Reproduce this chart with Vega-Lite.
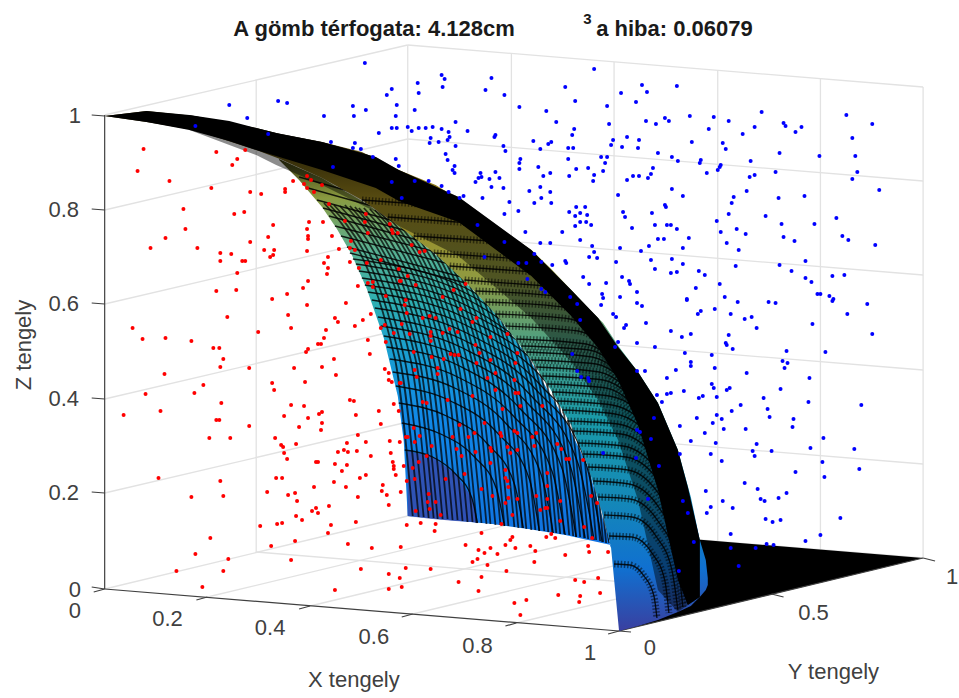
{"$schema":"https://vega.github.io/schema/vega-lite/v6.json","width":959,"height":698,"padding":0,"autosize":{"type":"fit","contains":"padding"},"background":"white","view":{"stroke":null},
"datasets":{
"grid":[{"x":105,"y":115,"x2":409,"y2":45},{"x":409,"y":45,"x2":926,"y2":87},{"x":926,"y":87,"x2":926,"y2":558},{"x":409,"y":45,"x2":409,"y2":516},{"x":257,"y":80,"x2":257,"y2":552},{"x":105,"y":210,"x2":409,"y2":139},{"x":105,"y":304,"x2":409,"y2":233},{"x":105,"y":399,"x2":409,"y2":328},{"x":105,"y":493,"x2":409,"y2":422},{"x":105,"y":589,"x2":409,"y2":516},{"x":409,"y":139,"x2":926,"y2":181},{"x":409,"y":233,"x2":926,"y2":275},{"x":409,"y":328,"x2":926,"y2":370},{"x":409,"y":422,"x2":926,"y2":464},{"x":409,"y":516,"x2":926,"y2":558},{"x":513,"y":53,"x2":513,"y2":524},{"x":616,"y":62,"x2":616,"y2":533},{"x":720,"y":70,"x2":720,"y2":541},{"x":823,"y":79,"x2":823,"y2":550},{"x":208,"y":597,"x2":513,"y2":524},{"x":311,"y":606,"x2":616,"y2":533},{"x":414,"y":614,"x2":720,"y2":541},{"x":518,"y":623,"x2":823,"y2":550},{"x":257,"y":552,"x2":774,"y2":594}],
"axes":[{"x":105,"y":115,"x2":105,"y2":589},{"x":105,"y":589,"x2":621,"y2":631},{"x":621,"y":631,"x2":926,"y2":558},{"x":105,"y":116,"x2":92,"y2":115},{"x":105,"y":210,"x2":92,"y2":209},{"x":105,"y":304,"x2":92,"y2":303},{"x":105,"y":399,"x2":92,"y2":398},{"x":105,"y":493,"x2":92,"y2":492},{"x":105,"y":589,"x2":92,"y2":587},{"x":105,"y":589,"x2":94,"y2":592},{"x":208,"y":597,"x2":197,"y2":600},{"x":311,"y":606,"x2":300,"y2":609},{"x":414,"y":614,"x2":403,"y2":617},{"x":518,"y":623,"x2":507,"y2":626},{"x":621,"y":631,"x2":610,"y2":634},{"x":926,"y":558,"x2":938,"y2":561},{"x":774,"y":594,"x2":786,"y2":597},{"x":621,"y":631,"x2":633,"y2":632}],
"floor":[{"x":621,"y":533,"y2":631},{"x":926,"y":558,"y2":558}],
"inner":[{"x":280,"y":159,"y2":160},{"x":300,"y":168,"y2":180},{"x":323,"y":178,"y2":207},{"x":338,"y":187,"y2":229},{"x":353,"y":195,"y2":255},{"x":368,"y":204,"y2":289},{"x":385,"y":216,"y2":338},{"x":399,"y":225,"y2":396},{"x":405,"y":229,"y2":441},{"x":409,"y":232,"y2":516},{"x":450,"y":265,"y2":520},{"x":494,"y":310,"y2":524},{"x":530,"y":357,"y2":529},{"x":567,"y":420,"y2":535},{"x":590,"y":467,"y2":540},{"x":613,"y":548,"y2":545}],
"patch":[{"x":409,"y":451,"y2":516},{"x":434,"y":457,"y2":519},{"x":457,"y":474,"y2":521},{"x":473,"y":497,"y2":522},{"x":479,"y":523,"y2":523}],
"outer":[{"x":105,"y":116,"y2":116},{"x":147,"y":111,"y2":122},{"x":195,"y":116,"y2":130},{"x":257,"y":128,"y2":150},{"x":281,"y":134,"y2":159},{"x":323,"y":142,"y2":178},{"x":363,"y":152,"y2":200},{"x":400,"y":170,"y2":226},{"x":437,"y":185,"y2":254},{"x":470,"y":205,"y2":285},{"x":500,"y":228,"y2":317},{"x":533,"y":250,"y2":360},{"x":552,"y":268,"y2":389},{"x":573,"y":290,"y2":425},{"x":590,"y":308,"y2":467},{"x":605,"y":323,"y2":516},{"x":613,"y":335,"y2":548},{"x":621,"y":347,"y2":631},{"x":640,"y":372,"y2":626},{"x":660,"y":403,"y2":620},{"x":680,"y":450,"y2":612},{"x":693,"y":497,"y2":606},{"x":702,"y":540,"y2":597},{"x":708,"y":560,"y2":590},{"x":710,"y":578,"y2":585}],
"black":[{"x":105,"y":116,"y2":116},{"x":147,"y":111,"y2":122},{"x":190,"y":115,"y2":130},{"x":230,"y":121,"y2":141},{"x":257,"y":128,"y2":150},{"x":277,"y":133,"y2":156},{"x":323,"y":142,"y2":170},{"x":377,"y":157,"y2":188},{"x":400,"y":170,"y2":201},{"x":460,"y":197,"y2":222},{"x":533,"y":250,"y2":276},{"x":573,"y":290,"y2":316},{"x":600,"y":318,"y2":348},{"x":620,"y":347,"y2":380},{"x":640,"y":372,"y2":425},{"x":660,"y":403,"y2":490},{"x":680,"y":450,"y2":580},{"x":690,"y":487,"y2":605},{"x":702,"y":540,"y2":597}],
"fade":[{"x":190,"y":115,"y2":130},{"x":257,"y":128,"y2":155},{"x":277,"y":133,"y2":165},{"x":323,"y":142,"y2":185},{"x":377,"y":157,"y2":212},{"x":400,"y":170,"y2":226},{"x":460,"y":197,"y2":256},{"x":533,"y":250,"y2":318},{"x":573,"y":290,"y2":362},{"x":600,"y":318,"y2":400},{"x":620,"y":347,"y2":440},{"x":640,"y":372,"y2":500},{"x":660,"y":403,"y2":590},{"x":680,"y":450,"y2":612},{"x":702,"y":540,"y2":597}],
"innerArcs":[
{"c":0.99,"x":406,"y":450},{"c":0.99,"x":434,"y":457},{"c":0.99,"x":457,"y":474},{"c":0.99,"x":473,"y":497},{"c":0.99,"x":479,"y":523},
{"c":0.98,"x":403,"y":423},{"c":0.98,"x":442,"y":434},{"c":0.98,"x":476,"y":457},{"c":0.98,"x":498,"y":489},{"c":0.98,"x":506,"y":526},
{"c":0.97,"x":400,"y":403},{"c":0.97,"x":448,"y":416},{"c":0.97,"x":489,"y":444},{"c":0.97,"x":516,"y":484},{"c":0.97,"x":525,"y":528},
{"c":0.96,"x":397,"y":386},{"c":0.96,"x":452,"y":401},{"c":0.96,"x":499,"y":433},{"c":0.96,"x":531,"y":479},{"c":0.96,"x":541,"y":531},
{"c":0.95,"x":394,"y":372},{"c":0.95,"x":456,"y":388},{"c":0.95,"x":508,"y":424},{"c":0.95,"x":543,"y":475},{"c":0.95,"x":555,"y":533},
{"c":0.94,"x":391,"y":359},{"c":0.94,"x":459,"y":377},{"c":0.94,"x":515,"y":416},{"c":0.94,"x":554,"y":472},{"c":0.94,"x":567,"y":535},
{"c":0.93,"x":388,"y":347},{"c":0.93,"x":461,"y":366},{"c":0.93,"x":522,"y":409},{"c":0.93,"x":564,"y":469},{"c":0.93,"x":578,"y":537},
{"c":0.92,"x":385,"y":336},{"c":0.92,"x":463,"y":357},{"c":0.92,"x":528,"y":402},{"c":0.92,"x":572,"y":466},{"c":0.92,"x":587,"y":538},
{"c":0.91,"x":382,"y":326},{"c":0.91,"x":464,"y":348},{"c":0.91,"x":533,"y":396},{"c":0.91,"x":580,"y":464},{"c":0.91,"x":596,"y":540},
{"c":0.9,"x":379,"y":317},{"c":0.9,"x":465,"y":340},{"c":0.9,"x":538,"y":390},{"c":0.9,"x":587,"y":461},{"c":0.9,"x":604,"y":542},
{"c":0.89,"x":376,"y":308},{"c":0.89,"x":466,"y":332},{"c":0.89,"x":542,"y":385},{"c":0.89,"x":594,"y":459},{"c":0.89,"x":611,"y":543},
{"c":0.88,"x":373,"y":300},{"c":0.88,"x":467,"y":325},{"c":0.88,"x":546,"y":380},{"c":0.88,"x":600,"y":457},{"c":0.88,"x":618,"y":545},
{"c":0.87,"x":369,"y":292},{"c":0.87,"x":467,"y":318},{"c":0.87,"x":549,"y":375},{"c":0.87,"x":604,"y":455},
{"c":0.86,"x":366,"y":285},{"c":0.86,"x":467,"y":311},{"c":0.86,"x":552,"y":371},{"c":0.86,"x":609,"y":454},
{"c":0.85,"x":363,"y":278},{"c":0.85,"x":467,"y":305},{"c":0.85,"x":555,"y":366},
{"c":0.84,"x":360,"y":271},{"c":0.84,"x":468,"y":299},{"c":0.84,"x":558,"y":362},
{"c":0.83,"x":357,"y":264},{"c":0.83,"x":467,"y":293},{"c":0.83,"x":561,"y":358},
{"c":0.82,"x":354,"y":259},{"c":0.82,"x":467,"y":288},{"c":0.82,"x":563,"y":355},
{"c":0.81,"x":351,"y":253},{"c":0.81,"x":467,"y":283},
{"c":0.8,"x":348,"y":247},{"c":0.8,"x":467,"y":278},
{"c":0.78,"x":342,"y":236},{"c":0.78,"x":466,"y":268},
{"c":0.76,"x":336,"y":226},{"c":0.76,"x":465,"y":259},
{"c":0.74,"x":330,"y":216},{"c":0.74,"x":463,"y":252},
{"c":0.72,"x":324,"y":208},{"c":0.72,"x":460,"y":245},
{"c":0.7,"x":318,"y":200},{"c":0.7,"x":458,"y":238},
{"c":0.67,"x":309,"y":188},{"c":0.67,"x":452,"y":228},
{"c":0.64,"x":300,"y":177},{"c":0.64,"x":445,"y":218}],
"stripes":[
{"c":0.01,"x":325,"y":203},{"c":0.01,"x":396,"y":358},{"c":0.01,"x":414,"y":516},
{"c":0.02,"x":330,"y":204},{"c":0.02,"x":401,"y":359},{"c":0.02,"x":420,"y":517},
{"c":0.03,"x":335,"y":205},{"c":0.03,"x":406,"y":360},{"c":0.03,"x":425,"y":517},
{"c":0.04,"x":341,"y":206},{"c":0.04,"x":412,"y":360},{"c":0.04,"x":430,"y":518},
{"c":0.05,"x":346,"y":205},{"c":0.05,"x":417,"y":360},{"c":0.05,"x":435,"y":518},
{"c":0.06,"x":351,"y":206},{"c":0.06,"x":421,"y":361},{"c":0.06,"x":439,"y":519},
{"c":0.07,"x":356,"y":207},{"c":0.07,"x":426,"y":361},{"c":0.07,"x":444,"y":519},
{"c":0.08,"x":360,"y":208},{"c":0.08,"x":431,"y":362},{"c":0.08,"x":449,"y":519},
{"c":0.09,"x":365,"y":208},{"c":0.09,"x":436,"y":363},{"c":0.09,"x":454,"y":520},
{"c":0.1,"x":371,"y":209},{"c":0.1,"x":441,"y":363},{"c":0.1,"x":459,"y":520},
{"c":0.11,"x":376,"y":210},{"c":0.11,"x":446,"y":364},{"c":0.11,"x":464,"y":521},
{"c":0.12,"x":380,"y":211},{"c":0.12,"x":451,"y":365},{"c":0.12,"x":469,"y":522},
{"c":0.13,"x":385,"y":212},{"c":0.13,"x":456,"y":365},{"c":0.13,"x":474,"y":522},
{"c":0.14,"x":390,"y":213},{"c":0.14,"x":460,"y":366},{"c":0.14,"x":478,"y":523},
{"c":0.15,"x":395,"y":214},{"c":0.15,"x":465,"y":367},{"c":0.15,"x":483,"y":523},
{"c":0.16,"x":400,"y":215},{"c":0.16,"x":470,"y":368},{"c":0.16,"x":488,"y":524},
{"c":0.17,"x":405,"y":216},{"c":0.17,"x":475,"y":368},{"c":0.17,"x":492,"y":524},
{"c":0.18,"x":410,"y":217},{"c":0.18,"x":479,"y":369},{"c":0.18,"x":497,"y":525},
{"c":0.19,"x":414,"y":218},{"c":0.19,"x":484,"y":370},{"c":0.19,"x":502,"y":525},
{"c":0.2,"x":419,"y":219},{"c":0.2,"x":488,"y":371},{"c":0.2,"x":506,"y":526},
{"c":0.21,"x":423,"y":220},{"c":0.21,"x":493,"y":372},{"c":0.21,"x":510,"y":526},
{"c":0.22,"x":429,"y":221},{"c":0.22,"x":498,"y":373},{"c":0.22,"x":516,"y":527},
{"c":0.23,"x":433,"y":223},{"c":0.23,"x":502,"y":374},{"c":0.23,"x":520,"y":528},
{"c":0.24,"x":438,"y":224},{"c":0.24,"x":507,"y":375},{"c":0.24,"x":524,"y":528},
{"c":0.25,"x":442,"y":226},{"c":0.25,"x":511,"y":376},{"c":0.25,"x":528,"y":529},
{"c":0.26,"x":447,"y":227},{"c":0.26,"x":515,"y":377},{"c":0.26,"x":533,"y":530},
{"c":0.27,"x":451,"y":229},{"c":0.27,"x":519,"y":378},{"c":0.27,"x":537,"y":530},
{"c":0.28,"x":455,"y":230},{"c":0.28,"x":524,"y":379},{"c":0.28,"x":541,"y":531},
{"c":0.29,"x":461,"y":232},{"c":0.29,"x":529,"y":380},{"c":0.29,"x":546,"y":531},
{"c":0.3,"x":465,"y":233},{"c":0.3,"x":533,"y":381},{"c":0.3,"x":550,"y":532},
{"c":0.31,"x":469,"y":235},{"c":0.31,"x":537,"y":382},{"c":0.31,"x":554,"y":533},
{"c":0.32,"x":474,"y":237},{"c":0.32,"x":541,"y":384},{"c":0.32,"x":558,"y":533},
{"c":0.33,"x":478,"y":239},{"c":0.33,"x":545,"y":385},{"c":0.33,"x":562,"y":534},
{"c":0.34,"x":482,"y":240},{"c":0.34,"x":549,"y":386},{"c":0.34,"x":566,"y":534},
{"c":0.35,"x":487,"y":242},{"c":0.35,"x":554,"y":387},{"c":0.35,"x":571,"y":535},
{"c":0.36,"x":492,"y":244},{"c":0.36,"x":558,"y":388},{"c":0.36,"x":575,"y":536},
{"c":0.37,"x":496,"y":246},{"c":0.37,"x":562,"y":390},{"c":0.37,"x":578,"y":537},
{"c":0.38,"x":500,"y":248},{"c":0.38,"x":566,"y":391},{"c":0.38,"x":582,"y":537},
{"c":0.39,"x":504,"y":250},{"c":0.39,"x":569,"y":393},{"c":0.39,"x":586,"y":538},
{"c":0.4,"x":508,"y":252},{"c":0.4,"x":573,"y":394},{"c":0.4,"x":590,"y":539},
{"c":0.41,"x":513,"y":254},{"c":0.41,"x":578,"y":395},{"c":0.41,"x":594,"y":539},
{"c":0.42,"x":517,"y":256},{"c":0.42,"x":582,"y":397},{"c":0.42,"x":598,"y":540},
{"c":0.43,"x":521,"y":258},{"c":0.43,"x":585,"y":398},{"c":0.43,"x":602,"y":541},
{"c":0.44,"x":525,"y":261},{"c":0.44,"x":589,"y":400},{"c":0.44,"x":605,"y":542},
{"c":0.45,"x":529,"y":263},{"c":0.45,"x":592,"y":402},{"c":0.45,"x":608,"y":543}],
"outerArcs":[
{"c":0.99,"x":616,"y":564},{"c":0.99,"x":632,"y":565},{"c":0.99,"x":646,"y":576},{"c":0.99,"x":656,"y":596},{"c":0.99,"x":659,"y":618},
{"c":0.98,"x":611,"y":536},{"c":0.98,"x":634,"y":537},{"c":0.98,"x":654,"y":553},{"c":0.98,"x":667,"y":581},{"c":0.98,"x":671,"y":613},
{"c":0.97,"x":606,"y":515},{"c":0.97,"x":634,"y":517},{"c":0.97,"x":658,"y":536},{"c":0.97,"x":674,"y":570},{"c":0.97,"x":680,"y":610},
{"c":0.96,"x":600,"y":497},{"c":0.96,"x":632,"y":499},{"c":0.96,"x":660,"y":521},{"c":0.96,"x":679,"y":560},{"c":0.96,"x":685,"y":607},
{"c":0.95,"x":595,"y":481},{"c":0.95,"x":631,"y":484},{"c":0.95,"x":662,"y":509},{"c":0.95,"x":683,"y":552},{"c":0.95,"x":690,"y":604},
{"c":0.94,"x":590,"y":467},{"c":0.94,"x":630,"y":470},{"c":0.94,"x":663,"y":497},{"c":0.94,"x":686,"y":544},{"c":0.94,"x":694,"y":602},
{"c":0.93,"x":585,"y":454},{"c":0.93,"x":628,"y":457},{"c":0.93,"x":664,"y":486},{"c":0.93,"x":688,"y":537},{"c":0.93,"x":697,"y":600},
{"c":0.92,"x":580,"y":443},{"c":0.92,"x":625,"y":446},{"c":0.92,"x":664,"y":477},{"c":0.92,"x":690,"y":531},
{"c":0.91,"x":575,"y":431},{"c":0.91,"x":623,"y":434},{"c":0.91,"x":664,"y":467},{"c":0.91,"x":692,"y":524},
{"c":0.9,"x":569,"y":421},{"c":0.9,"x":620,"y":424},{"c":0.9,"x":663,"y":459},{"c":0.9,"x":690,"y":519},
{"c":0.89,"x":564,"y":410},{"c":0.89,"x":617,"y":414},{"c":0.89,"x":662,"y":450},{"c":0.89,"x":688,"y":513},
{"c":0.88,"x":559,"y":401},{"c":0.88,"x":614,"y":405},{"c":0.88,"x":661,"y":443},{"c":0.88,"x":686,"y":508},
{"c":0.87,"x":554,"y":392},{"c":0.87,"x":611,"y":396},{"c":0.87,"x":660,"y":435},{"c":0.87,"x":684,"y":500},
{"c":0.86,"x":549,"y":384},{"c":0.86,"x":608,"y":388},{"c":0.86,"x":657,"y":428},
{"c":0.85,"x":544,"y":376},{"c":0.85,"x":605,"y":380},{"c":0.85,"x":655,"y":421},
{"c":0.84,"x":538,"y":367},{"c":0.84,"x":601,"y":372},{"c":0.84,"x":653,"y":414},
{"c":0.83,"x":533,"y":360},{"c":0.83,"x":598,"y":364},{"c":0.83,"x":650,"y":409},
{"c":0.82,"x":528,"y":352},{"c":0.82,"x":594,"y":357},{"c":0.82,"x":648,"y":402},
{"c":0.81,"x":523,"y":346},{"c":0.81,"x":591,"y":350},{"c":0.81,"x":645,"y":397},
{"c":0.8,"x":518,"y":339},{"c":0.8,"x":588,"y":344},{"c":0.8,"x":642,"y":391},
{"c":0.78,"x":507,"y":326},{"c":0.78,"x":580,"y":331},{"c":0.78,"x":636,"y":380},
{"c":0.76,"x":497,"y":314},{"c":0.76,"x":572,"y":319},{"c":0.76,"x":630,"y":370},
{"c":0.74,"x":487,"y":302},{"c":0.74,"x":565,"y":307},{"c":0.74,"x":622,"y":360},
{"c":0.72,"x":477,"y":291},{"c":0.72,"x":558,"y":296},{"c":0.72,"x":612,"y":351},
{"c":0.7,"x":466,"y":280},{"c":0.7,"x":549,"y":286},
{"c":0.67,"x":451,"y":266},{"c":0.67,"x":537,"y":272},
{"c":0.64,"x":435,"y":253},{"c":0.64,"x":524,"y":259},
{"c":0.6,"x":415,"y":236},{"c":0.6,"x":508,"y":242},
{"c":0.55,"x":389,"y":217},{"c":0.55,"x":486,"y":224},
{"c":0.5,"x":363,"y":200},{"c":0.5,"x":463,"y":207}],
"blue":[{"x":443,"y":75},{"x":446,"y":79},{"x":419,"y":83},{"x":444,"y":87},{"x":493,"y":78},{"x":487,"y":90},{"x":420,"y":93},{"x":506,"y":95},{"x":596,"y":69},{"x":567,"y":87},{"x":623,"y":93},{"x":644,"y":85},{"x":649,"y":92},{"x":638,"y":102},{"x":577,"y":101},{"x":609,"y":106},{"x":521,"y":107},{"x":548,"y":111},{"x":416,"y":110},{"x":457,"y":122},{"x":558,"y":122},{"x":611,"y":124},{"x":648,"y":121},{"x":658,"y":124},{"x":667,"y":118},{"x":671,"y":121},{"x":679,"y":86},{"x":409,"y":127},{"x":413,"y":131},{"x":420,"y":128},{"x":427,"y":128},{"x":434,"y":127},{"x":443,"y":129},{"x":450,"y":132},{"x":469,"y":131},{"x":576,"y":129},{"x":574,"y":135},{"x":497,"y":135},{"x":496,"y":137},{"x":451,"y":137},{"x":449,"y":140},{"x":432,"y":138},{"x":431,"y":143},{"x":440,"y":142},{"x":457,"y":146},{"x":535,"y":141},{"x":553,"y":142},{"x":550,"y":144},{"x":615,"y":140},{"x":629,"y":137},{"x":641,"y":140},{"x":613,"y":145},{"x":624,"y":147},{"x":640,"y":148},{"x":505,"y":146},{"x":507,"y":151},{"x":542,"y":149},{"x":570,"y":148},{"x":575,"y":148},{"x":660,"y":153},{"x":674,"y":157},{"x":603,"y":157},{"x":609,"y":157},{"x":447,"y":154},{"x":449,"y":160},{"x":570,"y":159},{"x":607,"y":163},{"x":522,"y":159},{"x":521,"y":163},{"x":521,"y":169},{"x":540,"y":167},{"x":578,"y":169},{"x":590,"y":168},{"x":655,"y":168},{"x":456,"y":166},{"x":454,"y":170},{"x":456,"y":173},{"x":552,"y":173},{"x":545,"y":176},{"x":571,"y":176},{"x":605,"y":171},{"x":596,"y":175},{"x":595,"y":181},{"x":497,"y":172},{"x":482,"y":173},{"x":483,"y":177},{"x":480,"y":178},{"x":477,"y":182},{"x":491,"y":179},{"x":501,"y":178},{"x":635,"y":176},{"x":641,"y":176},{"x":653,"y":174},{"x":650,"y":178},{"x":629,"y":180},{"x":416,"y":181},{"x":430,"y":181},{"x":443,"y":186},{"x":450,"y":192},{"x":493,"y":187},{"x":505,"y":188},{"x":531,"y":191},{"x":542,"y":187},{"x":552,"y":192},{"x":543,"y":198},{"x":484,"y":198},{"x":461,"y":198},{"x":465,"y":196},{"x":674,"y":189},{"x":620,"y":195},{"x":511,"y":202},{"x":536,"y":203},{"x":553,"y":203},{"x":403,"y":198},{"x":667,"y":205},{"x":668,"y":207},{"x":578,"y":207},{"x":587,"y":207},{"x":571,"y":212},{"x":582,"y":213},{"x":577,"y":216},{"x":589,"y":215},{"x":520,"y":211},{"x":506,"y":214},{"x":625,"y":212},{"x":627,"y":217},{"x":654,"y":213},{"x":582,"y":222},{"x":588,"y":222},{"x":593,"y":225},{"x":577,"y":226},{"x":657,"y":225},{"x":669,"y":225},{"x":673,"y":225},{"x":634,"y":228},{"x":679,"y":229},{"x":479,"y":225},{"x":527,"y":232},{"x":564,"y":232},{"x":582,"y":240},{"x":506,"y":242},{"x":542,"y":243},{"x":552,"y":243},{"x":660,"y":239},{"x":666,"y":239},{"x":651,"y":246},{"x":643,"y":251},{"x":594,"y":246},{"x":622,"y":248},{"x":596,"y":252},{"x":591,"y":257},{"x":599,"y":258},{"x":618,"y":262},{"x":653,"y":260},{"x":674,"y":259},{"x":486,"y":257},{"x":536,"y":254},{"x":520,"y":263},{"x":528,"y":263},{"x":543,"y":262},{"x":554,"y":265},{"x":567,"y":261},{"x":568,"y":263},{"x":657,"y":269},{"x":673,"y":273},{"x":679,"y":272},{"x":529,"y":279},{"x":585,"y":277},{"x":624,"y":277},{"x":631,"y":281},{"x":632,"y":284},{"x":591,"y":284},{"x":608,"y":283},{"x":543,"y":289},{"x":547,"y":292},{"x":639,"y":292},{"x":572,"y":297},{"x":604,"y":294},{"x":605,"y":298},{"x":622,"y":297},{"x":692,"y":116},{"x":716,"y":117},{"x":731,"y":121},{"x":711,"y":129},{"x":764,"y":112},{"x":757,"y":127},{"x":745,"y":134},{"x":786,"y":123},{"x":788,"y":126},{"x":804,"y":127},{"x":798,"y":132},{"x":849,"y":115},{"x":875,"y":124},{"x":855,"y":138},{"x":694,"y":142},{"x":725,"y":143},{"x":728,"y":149},{"x":782,"y":153},{"x":822,"y":156},{"x":858,"y":156},{"x":753,"y":161},{"x":680,"y":161},{"x":703,"y":160},{"x":702,"y":163},{"x":723,"y":165},{"x":722,"y":167},{"x":720,"y":170},{"x":709,"y":173},{"x":778,"y":172},{"x":757,"y":175},{"x":752,"y":177},{"x":860,"y":172},{"x":855,"y":179},{"x":749,"y":191},{"x":882,"y":190},{"x":685,"y":196},{"x":736,"y":197},{"x":781,"y":198},{"x":807,"y":196},{"x":734,"y":203},{"x":731,"y":214},{"x":768,"y":216},{"x":839,"y":218},{"x":719,"y":221},{"x":784,"y":224},{"x":817,"y":224},{"x":739,"y":229},{"x":723,"y":232},{"x":748,"y":234},{"x":845,"y":236},{"x":786,"y":237},{"x":851,"y":240},{"x":691,"y":238},{"x":797,"y":241},{"x":729,"y":243},{"x":878,"y":245},{"x":685,"y":248},{"x":741,"y":250},{"x":685,"y":264},{"x":738,"y":266},{"x":782,"y":265},{"x":808,"y":261},{"x":701,"y":271},{"x":707,"y":275},{"x":794,"y":271},{"x":808,"y":278},{"x":814,"y":282},{"x":835,"y":276},{"x":847,"y":275},{"x":698,"y":288},{"x":722,"y":284},{"x":820,"y":294},{"x":823,"y":294},{"x":832,"y":296},{"x":727,"y":297},{"x":689,"y":299},{"x":836,"y":299},{"x":603,"y":305},{"x":639,"y":303},{"x":644,"y":306},{"x":689,"y":300},{"x":740,"y":302},{"x":771,"y":302},{"x":778,"y":303},{"x":835,"y":301},{"x":870,"y":304},{"x":717,"y":309},{"x":703,"y":311},{"x":700,"y":314},{"x":733,"y":314},{"x":850,"y":314},{"x":615,"y":314},{"x":618,"y":317},{"x":747,"y":319},{"x":754,"y":317},{"x":648,"y":323},{"x":628,"y":325},{"x":626,"y":328},{"x":815,"y":324},{"x":759,"y":328},{"x":673,"y":331},{"x":693,"y":334},{"x":684,"y":337},{"x":731,"y":335},{"x":875,"y":334},{"x":620,"y":342},{"x":617,"y":347},{"x":639,"y":343},{"x":657,"y":347},{"x":728,"y":343},{"x":729,"y":345},{"x":735,"y":349},{"x":789,"y":351},{"x":828,"y":352},{"x":687,"y":353},{"x":714,"y":355},{"x":785,"y":361},{"x":790,"y":363},{"x":787,"y":368},{"x":693,"y":362},{"x":693,"y":366},{"x":717,"y":368},{"x":678,"y":370},{"x":647,"y":371},{"x":639,"y":371},{"x":749,"y":373},{"x":812,"y":378},{"x":669,"y":378},{"x":714,"y":384},{"x":716,"y":388},{"x":729,"y":390},{"x":732,"y":388},{"x":783,"y":389},{"x":686,"y":391},{"x":659,"y":395},{"x":669,"y":394},{"x":673,"y":393},{"x":719,"y":397},{"x":705,"y":396},{"x":701,"y":398},{"x":766,"y":398},{"x":664,"y":402},{"x":811,"y":402},{"x":864,"y":405},{"x":743,"y":405},{"x":770,"y":409},{"x":734,"y":411},{"x":772,"y":417},{"x":719,"y":415},{"x":724,"y":419},{"x":699,"y":418},{"x":796,"y":419},{"x":656,"y":418},{"x":715,"y":423},{"x":795,"y":427},{"x":682,"y":426},{"x":726,"y":429},{"x":748,"y":429},{"x":639,"y":430},{"x":642,"y":432},{"x":707,"y":433},{"x":653,"y":439},{"x":826,"y":438},{"x":693,"y":441},{"x":718,"y":443},{"x":759,"y":444},{"x":813,"y":448},{"x":857,"y":449},{"x":755,"y":451},{"x":774,"y":451},{"x":605,"y":453},{"x":682,"y":454},{"x":713,"y":454},{"x":757,"y":456},{"x":638,"y":458},{"x":825,"y":462},{"x":724,"y":461},{"x":661,"y":466},{"x":862,"y":469},{"x":798,"y":472},{"x":827,"y":477},{"x":747,"y":483},{"x":760,"y":489},{"x":708,"y":491},{"x":789,"y":493},{"x":781,"y":498},{"x":650,"y":499},{"x":763,"y":499},{"x":767,"y":501},{"x":725,"y":501},{"x":685,"y":501},{"x":713,"y":507},{"x":735,"y":508},{"x":690,"y":513},{"x":709,"y":513},{"x":768,"y":519},{"x":783,"y":520},{"x":775,"y":522},{"x":843,"y":518},{"x":733,"y":534},{"x":823,"y":535},{"x":808,"y":541},{"x":696,"y":542},{"x":769,"y":544},{"x":776,"y":545},{"x":733,"y":548},{"x":758,"y":548},{"x":741,"y":566},{"x":681,"y":571},{"x":366,"y":63},{"x":230,"y":105},{"x":279,"y":101},{"x":288,"y":103},{"x":393,"y":89},{"x":388,"y":95},{"x":354,"y":106},{"x":367,"y":110},{"x":355,"y":116},{"x":398,"y":105},{"x":397,"y":116},{"x":325,"y":116},{"x":248,"y":118},{"x":269,"y":134},{"x":380,"y":133},{"x":393,"y":128},{"x":398,"y":128},{"x":332,"y":142},{"x":356,"y":143},{"x":354,"y":148},{"x":362,"y":149},{"x":374,"y":157},{"x":397,"y":159},{"x":400,"y":166},{"x":334,"y":167},{"x":393,"y":182},{"x":196,"y":126},{"x":579,"y":304},{"x":582,"y":320},{"x":574,"y":354},{"x":579,"y":371},{"x":583,"y":377},{"x":590,"y":378},{"x":591,"y":381}],
"red":[{"x":144,"y":149},{"x":217,"y":152},{"x":246,"y":150},{"x":238,"y":159},{"x":233,"y":165},{"x":138,"y":171},{"x":170,"y":181},{"x":212,"y":188},{"x":251,"y":192},{"x":262,"y":194},{"x":286,"y":189},{"x":286,"y":192},{"x":294,"y":181},{"x":308,"y":176},{"x":312,"y":180},{"x":305,"y":184},{"x":308,"y":188},{"x":323,"y":185},{"x":315,"y":192},{"x":330,"y":204},{"x":184,"y":209},{"x":245,"y":212},{"x":235,"y":214},{"x":367,"y":214},{"x":366,"y":222},{"x":346,"y":221},{"x":324,"y":222},{"x":310,"y":222},{"x":274,"y":225},{"x":308,"y":229},{"x":186,"y":229},{"x":166,"y":238},{"x":269,"y":237},{"x":309,"y":236},{"x":309,"y":239},{"x":333,"y":236},{"x":369,"y":233},{"x":352,"y":241},{"x":251,"y":242},{"x":151,"y":248},{"x":198,"y":248},{"x":308,"y":251},{"x":340,"y":249},{"x":351,"y":248},{"x":356,"y":250},{"x":265,"y":250},{"x":275,"y":250},{"x":221,"y":253},{"x":232,"y":254},{"x":274,"y":255},{"x":271,"y":257},{"x":329,"y":257},{"x":325,"y":263},{"x":382,"y":260},{"x":351,"y":262},{"x":368,"y":263},{"x":221,"y":261},{"x":243,"y":261},{"x":246,"y":261},{"x":329,"y":268},{"x":360,"y":268},{"x":238,"y":273},{"x":328,"y":274},{"x":309,"y":281},{"x":369,"y":283},{"x":374,"y":282},{"x":374,"y":287},{"x":359,"y":286},{"x":304,"y":288},{"x":217,"y":291},{"x":237,"y":290},{"x":288,"y":294},{"x":387,"y":296},{"x":273,"y":299},{"x":308,"y":305},{"x":347,"y":303},{"x":289,"y":315},{"x":228,"y":317},{"x":372,"y":314},{"x":336,"y":318},{"x":339,"y":322},{"x":364,"y":320},{"x":356,"y":326},{"x":386,"y":325},{"x":382,"y":328},{"x":133,"y":328},{"x":292,"y":328},{"x":327,"y":330},{"x":259,"y":332},{"x":143,"y":339},{"x":166,"y":338},{"x":192,"y":341},{"x":325,"y":338},{"x":322,"y":344},{"x":319,"y":344},{"x":369,"y":340},{"x":387,"y":342},{"x":214,"y":348},{"x":220,"y":348},{"x":309,"y":349},{"x":224,"y":359},{"x":221,"y":367},{"x":250,"y":368},{"x":307,"y":352},{"x":335,"y":359},{"x":371,"y":354},{"x":295,"y":368},{"x":323,"y":367},{"x":337,"y":375},{"x":165,"y":374},{"x":386,"y":369},{"x":390,"y":373},{"x":306,"y":382},{"x":273,"y":383},{"x":204,"y":385},{"x":195,"y":393},{"x":146,"y":394},{"x":275,"y":390},{"x":390,"y":380},{"x":393,"y":382},{"x":401,"y":383},{"x":222,"y":403},{"x":351,"y":400},{"x":355,"y":401},{"x":292,"y":405},{"x":305,"y":406},{"x":395,"y":404},{"x":161,"y":411},{"x":124,"y":415},{"x":380,"y":411},{"x":400,"y":411},{"x":323,"y":412},{"x":320,"y":414},{"x":357,"y":415},{"x":285,"y":416},{"x":309,"y":418},{"x":217,"y":420},{"x":220,"y":420},{"x":323,"y":423},{"x":382,"y":424},{"x":250,"y":426},{"x":300,"y":427},{"x":322,"y":430},{"x":210,"y":438},{"x":231,"y":438},{"x":276,"y":438},{"x":359,"y":435},{"x":407,"y":437},{"x":391,"y":441},{"x":367,"y":442},{"x":401,"y":442},{"x":348,"y":443},{"x":297,"y":444},{"x":282,"y":445},{"x":284,"y":447},{"x":345,"y":450},{"x":349,"y":452},{"x":339,"y":452},{"x":358,"y":451},{"x":285,"y":453},{"x":392,"y":453},{"x":372,"y":456},{"x":288,"y":459},{"x":317,"y":462},{"x":319,"y":462},{"x":336,"y":464},{"x":394,"y":462},{"x":348,"y":465},{"x":395,"y":466},{"x":395,"y":469},{"x":405,"y":466},{"x":343,"y":471},{"x":397,"y":475},{"x":367,"y":475},{"x":361,"y":478},{"x":159,"y":478},{"x":277,"y":478},{"x":283,"y":478},{"x":221,"y":481},{"x":335,"y":482},{"x":408,"y":481},{"x":347,"y":487},{"x":384,"y":485},{"x":315,"y":487},{"x":383,"y":491},{"x":268,"y":492},{"x":296,"y":493},{"x":289,"y":495},{"x":388,"y":495},{"x":402,"y":492},{"x":192,"y":497},{"x":224,"y":496},{"x":359,"y":497},{"x":298,"y":501},{"x":390,"y":505},{"x":317,"y":508},{"x":330,"y":506},{"x":313,"y":511},{"x":319,"y":513},{"x":297,"y":516},{"x":303,"y":520},{"x":357,"y":522},{"x":283,"y":523},{"x":278,"y":524},{"x":261,"y":526},{"x":332,"y":525},{"x":408,"y":525},{"x":329,"y":533},{"x":211,"y":538},{"x":296,"y":541},{"x":349,"y":544},{"x":272,"y":546},{"x":373,"y":548},{"x":402,"y":547},{"x":196,"y":554},{"x":229,"y":559},{"x":292,"y":560},{"x":362,"y":569},{"x":177,"y":571},{"x":224,"y":571},{"x":407,"y":568},{"x":390,"y":574},{"x":401,"y":578},{"x":203,"y":587},{"x":336,"y":590},{"x":390,"y":589},{"x":403,"y":587},{"x":402,"y":281},{"x":417,"y":285},{"x":455,"y":290},{"x":467,"y":284},{"x":444,"y":297},{"x":407,"y":300},{"x":406,"y":305},{"x":462,"y":309},{"x":408,"y":313},{"x":424,"y":318},{"x":431,"y":316},{"x":437,"y":318},{"x":478,"y":318},{"x":474,"y":322},{"x":403,"y":324},{"x":395,"y":333},{"x":411,"y":334},{"x":432,"y":332},{"x":432,"y":336},{"x":451,"y":329},{"x":444,"y":333},{"x":459,"y":332},{"x":432,"y":341},{"x":492,"y":337},{"x":509,"y":334},{"x":477,"y":345},{"x":415,"y":352},{"x":519,"y":353},{"x":452,"y":354},{"x":456,"y":355},{"x":460,"y":355},{"x":433,"y":357},{"x":445,"y":359},{"x":481,"y":353},{"x":492,"y":360},{"x":478,"y":363},{"x":517,"y":363},{"x":439,"y":368},{"x":416,"y":370},{"x":497,"y":373},{"x":439,"y":374},{"x":418,"y":377},{"x":489,"y":378},{"x":516,"y":380},{"x":402,"y":383},{"x":497,"y":390},{"x":517,"y":393},{"x":520,"y":393},{"x":474,"y":396},{"x":424,"y":402},{"x":428,"y":403},{"x":449,"y":400},{"x":522,"y":406},{"x":544,"y":406},{"x":504,"y":409},{"x":486,"y":423},{"x":461,"y":425},{"x":415,"y":428},{"x":516,"y":431},{"x":519,"y":433},{"x":476,"y":433},{"x":502,"y":433},{"x":503,"y":436},{"x":538,"y":433},{"x":534,"y":437},{"x":421,"y":436},{"x":409,"y":437},{"x":454,"y":437},{"x":470,"y":437},{"x":416,"y":442},{"x":536,"y":446},{"x":559,"y":444},{"x":563,"y":449},{"x":433,"y":446},{"x":492,"y":448},{"x":493,"y":451},{"x":509,"y":447},{"x":458,"y":449},{"x":519,"y":450},{"x":477,"y":452},{"x":512,"y":453},{"x":428,"y":456},{"x":463,"y":456},{"x":568,"y":459},{"x":571,"y":459},{"x":585,"y":460},{"x":420,"y":462},{"x":492,"y":463},{"x":414,"y":468},{"x":507,"y":470},{"x":549,"y":473},{"x":466,"y":474},{"x":507,"y":478},{"x":509,"y":481},{"x":416,"y":479},{"x":447,"y":479},{"x":549,"y":486},{"x":510,"y":487},{"x":483,"y":489},{"x":430,"y":494},{"x":593,"y":496},{"x":538,"y":496},{"x":494,"y":496},{"x":510,"y":498},{"x":507,"y":503},{"x":549,"y":499},{"x":519,"y":499},{"x":437,"y":502},{"x":429,"y":502},{"x":562,"y":501},{"x":599,"y":503},{"x":542,"y":510},{"x":547,"y":508},{"x":549,"y":508},{"x":431,"y":509},{"x":417,"y":511},{"x":442,"y":515},{"x":514,"y":515},{"x":562,"y":521},{"x":503,"y":524},{"x":586,"y":527},{"x":422,"y":523},{"x":437,"y":524},{"x":436,"y":531},{"x":483,"y":533},{"x":548,"y":537},{"x":553,"y":534},{"x":557,"y":538},{"x":514,"y":537},{"x":512,"y":540},{"x":507,"y":545},{"x":467,"y":545},{"x":517,"y":548},{"x":532,"y":546},{"x":537,"y":551},{"x":594,"y":538},{"x":590,"y":546},{"x":591,"y":552},{"x":492,"y":548},{"x":480,"y":550},{"x":486,"y":553},{"x":499,"y":554},{"x":567,"y":555},{"x":610,"y":552},{"x":479,"y":559},{"x":474,"y":562},{"x":536,"y":562},{"x":489,"y":565},{"x":432,"y":569},{"x":508,"y":571},{"x":483,"y":577},{"x":577,"y":580},{"x":586,"y":582},{"x":600,"y":578},{"x":460,"y":582},{"x":480,"y":591},{"x":560,"y":595},{"x":582,"y":596},{"x":602,"y":593},{"x":581,"y":602},{"x":516,"y":603},{"x":528,"y":600},{"x":522,"y":615},{"x":391,"y":224},{"x":393,"y":230},{"x":394,"y":233},{"x":399,"y":233},{"x":413,"y":245},{"x":421,"y":252},{"x":426,"y":251},{"x":400,"y":269},{"x":409,"y":276},{"x":401,"y":281}],
"labels":[{"x":75,"y":116,"t":"1"},{"x":64,"y":210,"t":"0.8"},{"x":64,"y":304,"t":"0.6"},{"x":64,"y":399,"t":"0.4"},{"x":64,"y":493,"t":"0.2"},{"x":75,"y":590,"t":"0"},{"x":75,"y":611,"t":"0"},{"x":168,"y":619,"t":"0.2"},{"x":271,"y":628,"t":"0.4"},{"x":375,"y":637,"t":"0.6"},{"x":479,"y":646,"t":"0.8"},{"x":592,"y":653,"t":"1"},{"x":652,"y":648,"t":"0"},{"x":816,"y":613,"t":"0.5"},{"x":955,"y":577,"t":"1"},{"x":355,"y":680,"t":"X tengely"},{"x":836,"y":672,"t":"Y tengely"}],
"ztitle":[{"x":24,"y":345,"t":"Z tengely"}],
"title":[{"x":234,"y":29,"t":"A gömb térfogata: 4.128cm"},{"x":598,"y":29,"t":"a hiba: 0.06079"}],
"sup":[{"x":585,"y":19,"t":"3"}]
},
"encoding":{"x":{"field":"x","type":"quantitative","scale":{"domain":[0,959],"nice":false,"zero":false},"axis":null},"y":{"field":"y","type":"quantitative","scale":{"domain":[698,0],"nice":false,"zero":false},"axis":null}},
"layer":[
{"data":{"name":"grid"},"mark":{"type":"rule","stroke":"#e2e2e2","strokeWidth":1.3},"encoding":{"x2":{"field":"x2"},"y2":{"field":"y2"}}},
{"data":{"name":"floor"},"mark":{"type":"area","fill":"#000000"},"encoding":{"y2":{"field":"y2"}}},
{"data":{"name":"axes"},"mark":{"type":"rule","stroke":"#404040","strokeWidth":1.2},"encoding":{"x2":{"field":"x2"},"y2":{"field":"y2"}}},
{"data":{"name":"inner"},"mark":{"type":"area","fill":{"gradient":"linear","x1":0,"y1":0,"x2":0,"y2":1,"stops":[{"offset":0,"color":"#3a3a10"},{"offset":0.1,"color":"#8a9a40"},{"offset":0.23,"color":"#5ab090"},{"offset":0.36,"color":"#30b0b0"},{"offset":0.49,"color":"#1aa0d0"},{"offset":0.67,"color":"#1088e8"},{"offset":1,"color":"#1070e0"}]}},"encoding":{"y2":{"field":"y2"}}},
{"data":{"name":"patch"},"mark":{"type":"area","fill":"#3a45a5","opacity":0.75},"encoding":{"y2":{"field":"y2"}}},
{"data":{"name":"stripes"},"mark":{"type":"line","stroke":"#000000","strokeWidth":1.8,"opacity":0.72,"interpolate":"monotone"},"encoding":{"detail":{"field":"c","type":"nominal"}}},
{"data":{"name":"innerArcs"},"mark":{"type":"line","stroke":"#000000","strokeWidth":1.3,"opacity":0.85,"interpolate":"monotone"},"encoding":{"detail":{"field":"c","type":"nominal"}}},
{"data":{"name":"outer"},"mark":{"type":"area","fill":{"gradient":"linear","x1":0,"y1":0,"x2":0,"y2":1,"stops":[{"offset":0.04,"color":"#3a2f08"},{"offset":0.17,"color":"#a08a20"},{"offset":0.32,"color":"#909a40"},{"offset":0.44,"color":"#50a080"},{"offset":0.59,"color":"#1a9aa8"},{"offset":0.75,"color":"#1488b8"},{"offset":0.88,"color":"#1070d0"},{"offset":1,"color":"#3a3fa0"}]}},"encoding":{"y2":{"field":"y2"}}},
{"data":{"name":"outerArcs"},"mark":{"type":"line","stroke":"#000000","strokeWidth":7,"strokeDash":[1.5,1.8],"opacity":0.5,"interpolate":"monotone"},"encoding":{"detail":{"field":"c","type":"nominal"}}},
{"data":{"name":"outerArcs"},"mark":{"type":"line","stroke":"#000000","strokeWidth":1.3,"opacity":0.85,"interpolate":"monotone"},"encoding":{"detail":{"field":"c","type":"nominal"}}},
{"data":{"name":"fade"},"mark":{"type":"area","fill":"#000000","opacity":0.45},"encoding":{"y2":{"field":"y2"}}},
{"data":{"name":"black"},"mark":{"type":"area","fill":"#000000"},"encoding":{"y2":{"field":"y2"}}},
{"data":{"name":"blue"},"mark":{"type":"circle","color":"#0000ff","size":16,"opacity":1}},
{"data":{"name":"red"},"mark":{"type":"circle","color":"#ff0000","size":16,"opacity":1}},
{"data":{"name":"labels"},"mark":{"type":"text","font":"Liberation Sans","fontSize":22,"color":"#404040","align":"center","baseline":"middle"},"encoding":{"text":{"field":"t"}}},
{"data":{"name":"ztitle"},"mark":{"type":"text","font":"Liberation Sans","fontSize":22,"color":"#404040","align":"center","baseline":"middle","angle":270},"encoding":{"text":{"field":"t"}}},
{"data":{"name":"title"},"mark":{"type":"text","font":"Liberation Sans","fontSize":22,"fontWeight":"bold","color":"#1a1a1a","align":"left","baseline":"middle"},"encoding":{"text":{"field":"t"}}},
{"data":{"name":"sup"},"mark":{"type":"text","font":"Liberation Sans","fontSize":15,"fontWeight":"bold","color":"#1a1a1a","align":"left","baseline":"middle"},"encoding":{"text":{"field":"t"}}}
]}
